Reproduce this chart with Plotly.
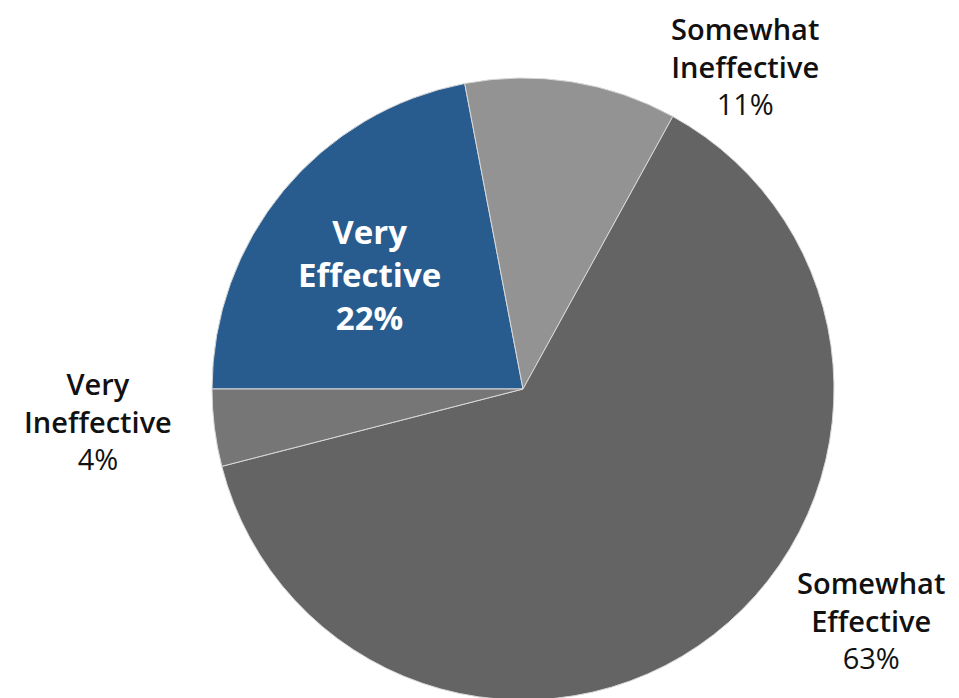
import plotly.graph_objects as go

labels = ["Very Effective", "Somewhat Ineffective", "Somewhat Effective", "Very Ineffective"]
label_lines = [["Very", "Effective"], ["Somewhat", "Ineffective"], ["Somewhat", "Effective"], ["Very", "Ineffective"]]
values = [22, 11, 63, 4]
colors = ["#285C8F", "#939393", "#646464", "#767676"]

W, H = 959, 698
OFF = 8  # page body margin offset
FONT = "Open Sans"

cx, cy, r = 523 - OFF, 389 - OFF, 311

fig = go.Figure(go.Pie(
    labels=labels,
    values=values,
    sort=False,
    direction="clockwise",
    rotation=270,
    marker=dict(colors=colors, line=dict(color="#D8D8D8", width=1)),
    textinfo="none",
    hoverinfo="label+percent",
    showlegend=False,
    domain=dict(x=[(cx - r) / W, (cx + r) / W], y=[max(0, (H - cy - r)) / H, (H - cy + r) / H]),
))

# label placement: (x center, y center of middle line) in screen px
label_pos = {
    "Very Effective": (369, 274),
    "Somewhat Ineffective": (745, 66),
    "Somewhat Effective": (871, 620),
    "Very Ineffective": (98, 421),
}

for lab, lines, val in zip(labels, label_lines, values):
    px, py = label_pos[lab]
    inside = lab == "Very Effective"
    if inside:
        txt = "<br>".join(lines + [f"{val}%"])
        fnt = dict(family=FONT, size=33, color="white", weight=700)
    else:
        txt = "<br>".join([f"<span style='font-weight:600'>{l}</span>" for l in lines] + [f"{val}%"])
        fnt = dict(family=FONT, size=29, color="#111111", weight=400)
    fig.add_annotation(
        x=(px - OFF) / W, y=1 - (py - OFF) / H, xref="paper", yref="paper",
        text=txt, showarrow=False, xanchor="center", yanchor="middle",
        font=fnt,
    )

fig.update_layout(
    width=W, height=H,
    margin=dict(l=0, r=0, t=0, b=0),
    paper_bgcolor="white",
    plot_bgcolor="white",
)

fig.write_html("out.html")
